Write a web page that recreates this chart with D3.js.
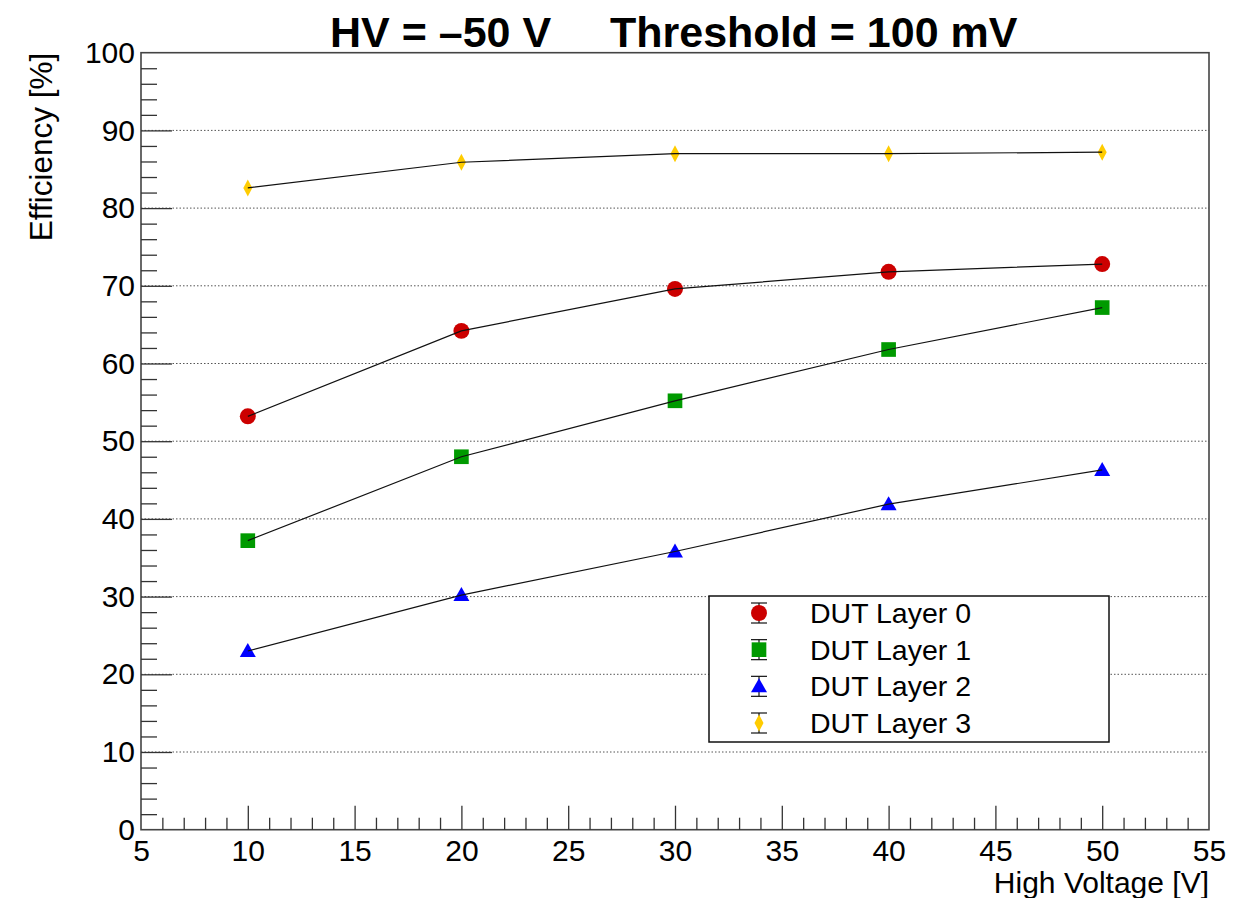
<!DOCTYPE html>
<html>
<head>
<meta charset="utf-8">
<script src="https://cdn.jsdelivr.net/npm/d3@7"></script>
<style>
  html, body { margin: 0; padding: 0; background: #fff; }
  svg { display: block; }
  text { font-family: "Liberation Sans", Arial, Helvetica, sans-serif; }
</style>
</head>
<body>
<svg id="chart" width="1249" height="898"></svg>
<script>
// ---- data ----
const voltages = [10, 20, 30, 40, 50];
const layer0 = [53.2, 64.2, 69.6, 71.8, 72.8];
const layer1 = [37.2, 48.0, 55.2, 61.8, 67.2];
const layer2 = [23.0, 30.2, 35.8, 41.9, 46.3];
const layer3 = [82.6, 85.9, 87.0, 87.0, 87.2];
const seriesNames = ["DUT Layer 0", "DUT Layer 1", "DUT Layer 2", "DUT Layer 3"];
const xTickValues = [5, 10, 15, 20, 25, 30, 35, 40, 45, 50, 55];
const yTickValues = [0, 10, 20, 30, 40, 50, 60, 70, 80, 90, 100];
const titleLeft = "HV = \u201350 V";
const titleRight = "Threshold = 100 mV";
const xTitle = "High Voltage [V]";
const yTitle = "Efficiency [%]";

// ---- layout ----
const L = 141, R = 1209, T = 52.7, B = 829.7;
const svg = d3.select("#chart");
const x = d3.scaleLinear().domain([5, 55]).range([L, R]);
const y = d3.scaleLinear().domain([0, 100]).range([B, T]);

const colors = ["#cc0000", "#009a00", "#0000ff", "#ffcc00"];
const shapes = ["circle", "square", "triangle", "diamond"];
const allSeries = [layer0, layer1, layer2, layer3];

// grid (dotted horizontal)
svg.append("g").selectAll("line")
  .data(yTickValues.filter(v => v > 0 && v < 100))
  .join("line")
  .attr("x1", L).attr("x2", R)
  .attr("y1", d => y(d)).attr("y2", d => y(d))
  .attr("stroke", "#555").attr("stroke-width", 1)
  .attr("stroke-dasharray", "1.5,2");

// frame
svg.append("rect").attr("x", L).attr("y", T)
  .attr("width", R - L).attr("height", B - T)
  .attr("fill", "none").attr("stroke", "#444").attr("stroke-width", 1.6);

// minor ticks
const xMinor = d3.range(6, 55, 1).filter(v => v % 5 !== 0);
const yMinor = d3.range(2, 100, 2).filter(v => v % 10 !== 0);

const gxMinor = svg.append("g").attr("transform", `translate(0,${B})`)
  .call(d3.axisBottom(x).tickValues(xMinor).tickSize(-12).tickSizeOuter(0).tickFormat(""));
const gyMinor = svg.append("g").attr("transform", `translate(${L},0)`)
  .call(d3.axisLeft(y).tickValues(yMinor).tickSize(-16).tickSizeOuter(0).tickFormat(""));

const gx = svg.append("g").attr("transform", `translate(0,${B})`)
  .call(d3.axisBottom(x).tickValues(xTickValues).tickSize(-24).tickSizeOuter(0).tickPadding(0).tickFormat(d3.format("d")));
const gy = svg.append("g").attr("transform", `translate(${L},0)`)
  .call(d3.axisLeft(y).tickValues(yTickValues).tickSize(-31).tickSizeOuter(0).tickPadding(6).tickFormat(d3.format("d")));

[gxMinor, gyMinor, gx, gy].forEach(g => {
  g.select(".domain").remove();
  g.selectAll(".tick line").attr("stroke", "#333").attr("stroke-width", 1.3);
});
gx.selectAll(".tick line").filter(d => d === 5 || d === 55).remove();
gy.selectAll(".tick line").filter(d => d === 0 || d === 100).remove();

gx.selectAll("text")
  .attr("y", 31).attr("dy", null)
  .attr("font-size", 30).attr("fill", "#000")
  .style("font-family", '"Liberation Sans", Arial, sans-serif');
gy.selectAll("text")
  .attr("font-size", 30).attr("fill", "#000")
  .style("font-family", '"Liberation Sans", Arial, sans-serif');

// symbols
function symbolPath(shape) {
  if (shape === "circle") return d3.symbol(d3.symbolCircle, 200)();
  if (shape === "square") return d3.symbol(d3.symbolSquare, 215)();
  if (shape === "triangle") return "M0,-8L8,6L-8,6Z";
  return "M0,-8.5L4.5,0L0,8.5L-4.5,0Z";
}

// markers
allSeries.forEach((vals, i) => {
  const pts = voltages.map((v, j) => [v, vals[j]]);
  svg.append("g").selectAll("path")
    .data(pts).join("path")
    .attr("transform", d => `translate(${x(d[0])},${y(d[1])})`)
    .attr("d", symbolPath(shapes[i]))
    .attr("fill", colors[i]);
});

// lines (drawn over markers)
const line = d3.line().x(d => x(d[0])).y(d => y(d[1]));
allSeries.forEach((vals) => {
  const pts = voltages.map((v, j) => [v, vals[j]]);
  svg.append("path").datum(pts)
    .attr("d", line)
    .attr("fill", "none").attr("stroke", "#111").attr("stroke-width", 1.2);
});

// legend
const lg = svg.append("g");
lg.append("rect").attr("x", 709).attr("y", 596).attr("width", 400).attr("height", 146)
  .attr("fill", "#fff").attr("stroke", "#111").attr("stroke-width", 1.5);
const rowY = d3.scaleLinear().domain([0, 3]).range([613, 723]);
seriesNames.forEach((name, i) => {
  const cy = rowY(i), cx = 759;
  lg.append("line").attr("x1", cx).attr("x2", cx).attr("y1", cy - 10).attr("y2", cy + 10)
    .attr("stroke", "#111").attr("stroke-width", 1.2);
  [cy - 10, cy + 10].forEach(yy =>
    lg.append("line").attr("x1", cx - 8).attr("x2", cx + 8).attr("y1", yy).attr("y2", yy)
      .attr("stroke", "#111").attr("stroke-width", 1.2));
  lg.append("path").attr("transform", `translate(${cx},${cy})`)
    .attr("d", symbolPath(shapes[i])).attr("fill", colors[i]);
  lg.append("text").attr("x", 810).attr("y", cy + 10)
    .attr("font-size", 28.5).attr("fill", "#000").text(name);
});

// titles
svg.append("text").attr("x", 330).attr("y", 47)
  .attr("font-size", 43).attr("font-weight", "bold").attr("fill", "#000").text(titleLeft);
svg.append("text").attr("x", 610).attr("y", 47)
  .attr("font-size", 43).attr("font-weight", "bold").attr("fill", "#000").text(titleRight);

svg.append("text").attr("x", R).attr("y", 893).attr("text-anchor", "end")
  .attr("font-size", 30).attr("fill", "#000").text(xTitle);
svg.append("text").attr("transform", `translate(52,${T}) rotate(-90)`)
  .attr("text-anchor", "end")
  .attr("font-size", 31.5).attr("fill", "#000").text(yTitle);
</script>
</body>
</html>
